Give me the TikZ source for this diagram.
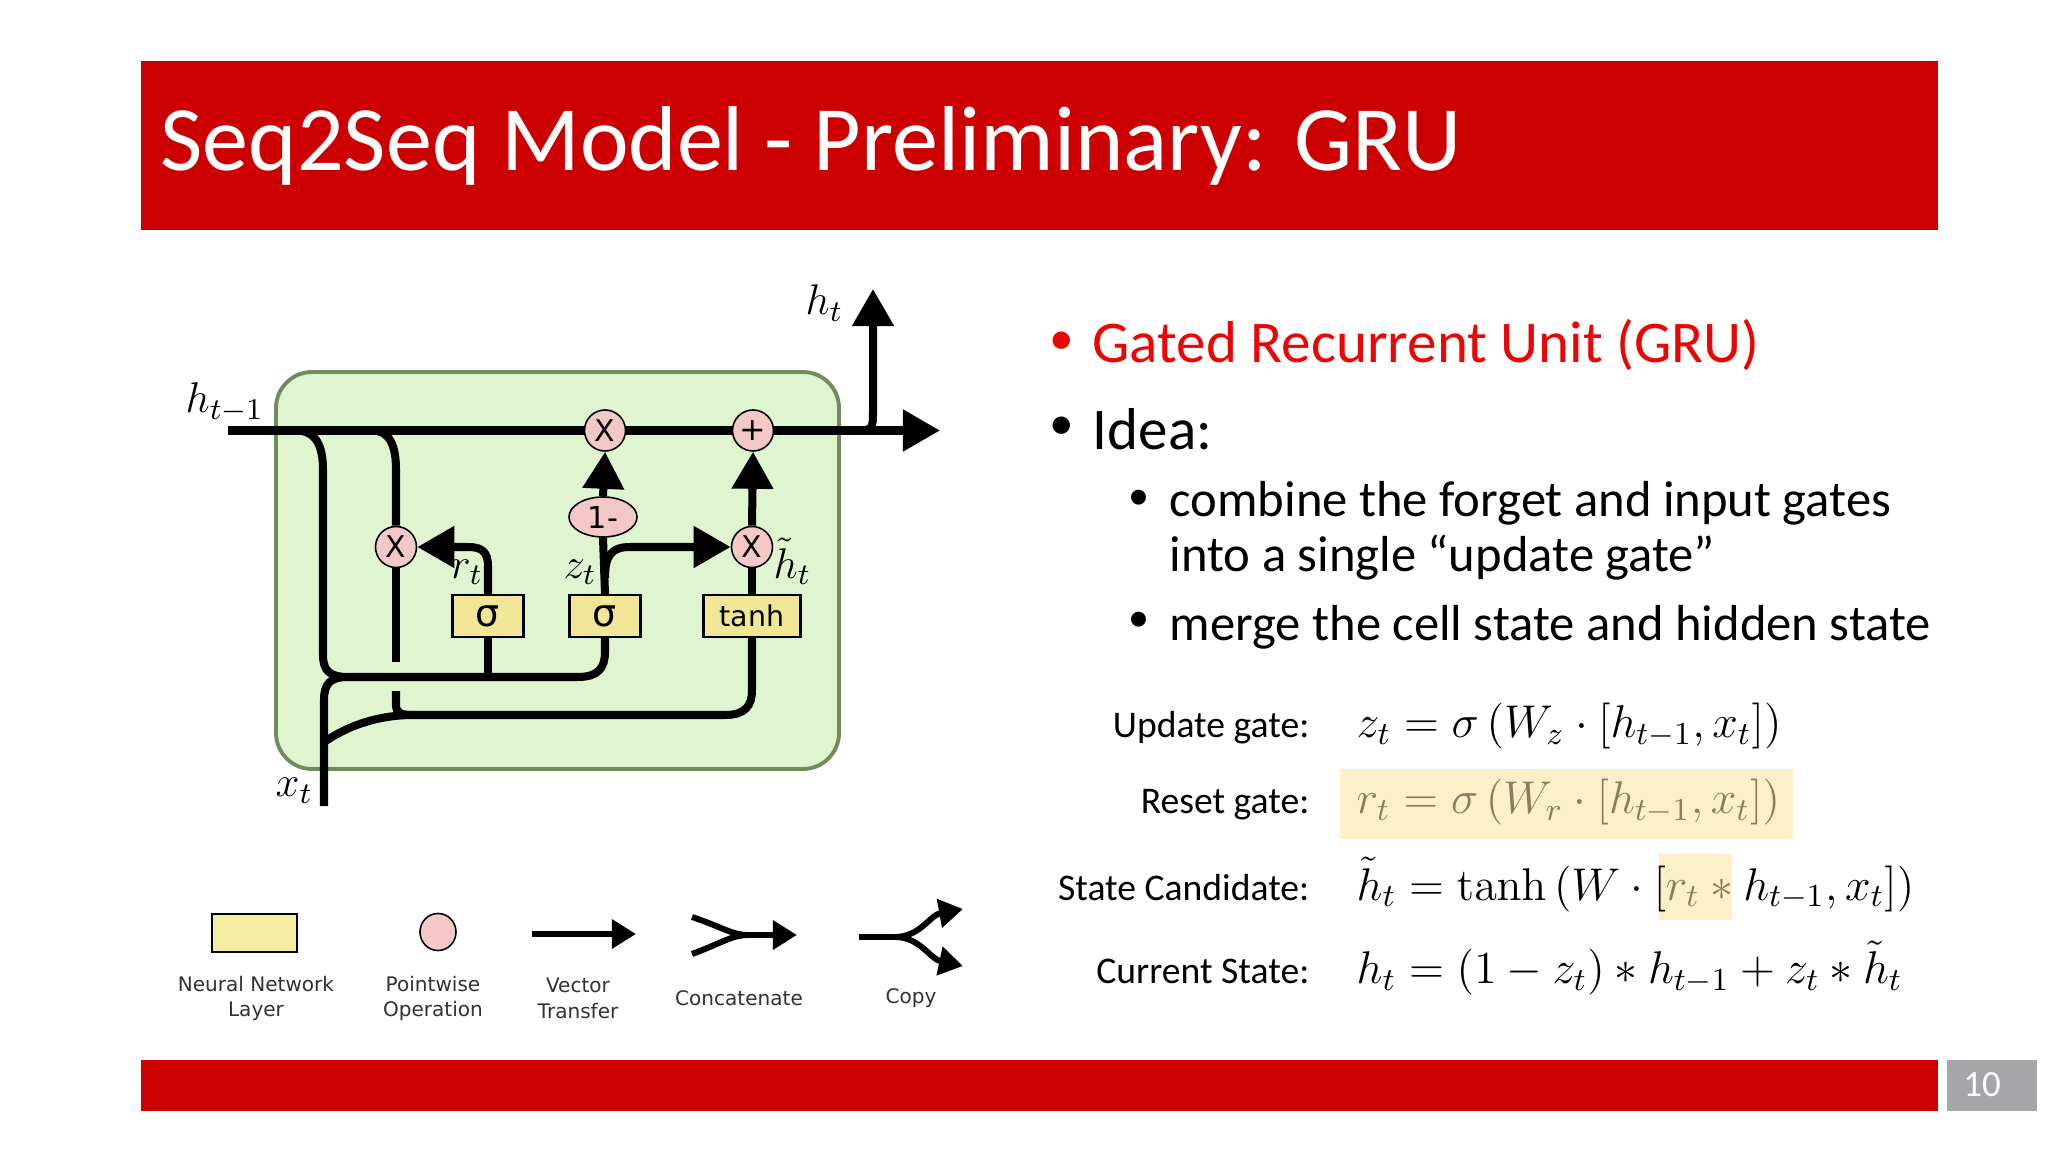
\RequirePackage{fix-cm}
\documentclass[tikz,border=0pt]{standalone}
\usepackage[no-math]{fontspec}
\newfontfamily\carlito{Carlito}
\newfontfamily\dejavu{DejaVu Sans}
\usetikzlibrary{arrows.meta,shapes.geometric}
\definecolor{hdrred}{RGB}{204,0,0}
\definecolor{brightred}{RGB}{235,5,5}
\definecolor{cellgreen}{RGB}{223,245,208}
\definecolor{celledge}{RGB}{112,140,92}
\definecolor{nnyellow}{RGB}{240,230,150}
\definecolor{legyellow}{RGB}{243,238,160}
\definecolor{pwpink}{RGB}{245,200,200}
\definecolor{hlyellow}{RGB}{253,240,200}
\definecolor{olivetext}{RGB}{135,125,95}
\definecolor{pagegray}{RGB}{165,165,170}
\definecolor{legtext}{RGB}{50,50,50}
\newcommand\setfs[1]{\fontsize{#1}{#1}\selectfont}
\tikzset{
  wire/.style={line width=2.28pt},
  arr/.style={wire,-{Triangle[length=3.7mm,width=4mm]}},
  pw/.style={circle,draw=black,line width=0.45pt,fill=pwpink,minimum size=4.1mm,inner sep=0pt,font={\dejavu\setfs{8.5pt}}},
  nn/.style={rectangle,draw=black,line width=0.6pt,fill=nnyellow,minimum height=4.2mm,inner sep=0pt},
  mlbl/.style={inner sep=0pt,anchor=base west,font={\setfs{12.2pt}}},
  legline/.style={line width=1.7pt},
  legarr/.style={legline,-{Triangle[length=2.4mm,width=2.8mm]}},
  legtxt/.style={inner sep=0pt,align=center,text=legtext,font={\dejavu\fontsize{5.7pt}{7.3pt}\selectfont}},
  bigtxt/.style={inner sep=0pt,anchor=base west,font={\carlito\setfs{16.8pt}}},
  subtxt/.style={inner sep=0pt,anchor=base west,font={\carlito\setfs{14.4pt}}},
  bullbig/.style={inner sep=0pt,anchor=center,font={\carlito\setfs{14pt}}},
  bullsub/.style={inner sep=0pt,anchor=center,font={\carlito\setfs{12pt}}},
  eqlbl/.style={inner sep=0pt,anchor=base east,font={\carlito\setfs{10.7pt}}},
  eqn/.style={inner sep=0pt,anchor=base west,font={\setfs{13.05pt}}},
}
\begin{document}
\begin{tikzpicture}[x=0.01cm,y=-0.01cm]
\useasboundingbox[fill=white] (0,0) rectangle (2048,1152);
% header and footer
\fill[hdrred] (141,61) rectangle (1938,230);
\node[anchor=base west,inner sep=0pt,text=white,font={\carlito\setfs{26.2pt}}] (title) at (160,171) {Seq2Seq Model - Preliminary: GRU};
\fill[hdrred] (141,1060) rectangle (1938,1111);
\fill[pagegray] (1947,1060) rectangle (2037,1111);
\node[text=white,inner sep=0pt,font={\carlito\setfs{10.5pt}}] (pnum) at (1982,1085) {10};

% GRU cell
\draw[fill=cellgreen,draw=celledge,line width=1.1pt,rounded corners=3.6mm] (276,372) rectangle (839,769);

\node[pw] (mulz) at (605,430.5) {X};
\node[pw,font={\dejavu\setfs{9pt}}] (plus) at (753,430.5) {+};
\node[pw,ellipse,minimum width=6.8mm,minimum height=4mm,font={\dejavu\setfs{8.6pt}}] (onem) at (603,517) {1-};
\node[pw] (mulr) at (396,547) {X};
\node[pw] (mulh) at (752,547) {X};
\node[nn,minimum width=7.1mm,font={\dejavu\setfs{10.8pt}}] (sigr) at (488,616) {σ};
\node[nn,minimum width=7.1mm,font={\dejavu\setfs{10.8pt}}] (sigz) at (605,616) {σ};
\node[nn,minimum width=9.7mm,font={\dejavu\setfs{8.1pt}}] (tanhb) at (752,616) {tanh};

\coordinate (hin) at (228,430.5);
\coordinate (hout) at (940,430.5);
\coordinate (htip) at (873,289);
\coordinate (xin) at (324,806);

% main line
\draw[wire] (hin) -- (mulz);
\draw[wire] (mulz) -- (plus);
\draw[arr] (plus) -- (hout);
\draw[arr] (852,430.5) .. controls (873,430.5) .. (873,410) -- (htip);

% branch A : h_{t-1} to gates
\draw[wire] (296,430.5) .. controls (316,430.5) and (323,446) .. (323,470) -- (323,655)
  .. controls (323,671) and (330,677) .. (348,677) -- (578,677)
  .. controls (598,677) and (605,668) .. (605,652) -- (sigz.south);
\draw[wire] (sigr.south) -- (488,677);
% x_t input
\draw[wire] (xin) -- (324,700) .. controls (324,684) and (330,677) .. (348,677);
\draw[wire] (324,742) .. controls (345,728) and (372,716) .. (410,715) -- (725,715)
  .. controls (745,715) and (752,706) .. (752,690) -- (tanhb.south);
% branch B : h_{t-1} through reset multiply
\draw[wire] (372,430.5) .. controls (390,430.5) and (396,446) .. (396,470) -- (mulr.north);
\draw[wire] (mulr.south) -- (396,662);
\draw[wire] (396,691) -- (396,705) .. controls (396,712) and (400,715) .. (412,715);
% reset gate output
\draw[arr] (sigr.north) -- (488,566) .. controls (488,552) and (482,547) .. (468,547) -- (mulr.east);
% update gate
\draw[wire] (sigz.north) -- (onem.south);
\draw[arr] (605,578) .. controls (605,556) and (611,547) .. (630,547) -- (mulh.west);
\draw[arr] (onem.north) -- (mulz.south);
% candidate
\draw[wire] (tanhb.north) -- (mulh.south);
\draw[arr] (mulh.north) -- (plus.south);

% math labels
\node[mlbl] (lhprev) at (185,412.7) {$h_{t-1}$};
\node[mlbl] (lht) at (805,315) {$h_t$};
\node[mlbl] (lxt) at (275,796.7) {$x_t$};
\node[mlbl] (lrt) at (450,578) {$r_t$};
\node[mlbl] (lzt) at (563,578) {$z_t$};
\node[mlbl] (lhtil) at (773,578) {$\tilde{h}_t$};

% legend
\node[draw=black,line width=0.7pt,fill=legyellow,minimum width=8.5mm,minimum height=3.8mm,inner sep=0pt] (legnn) at (254.5,933) {};
\node[draw=black,line width=0.45pt,fill=pwpink,ellipse,minimum width=3.6mm,minimum height=3.7mm,inner sep=0pt] (legpw) at (438,932) {};
\coordinate (vt1) at (532,934);
\coordinate (vt2) at (636,934);
\draw[legarr] (vt1) -- (vt2);
\coordinate (cc1) at (692,917);
\coordinate (cc2) at (692,954);
\coordinate (ccm) at (748,935);
\coordinate (cc3) at (797,935);
\draw[legline] (cc1) .. controls (722,927) and (732,935) .. (ccm);
\draw[legline] (cc2) .. controls (722,943) and (732,935) .. (ccm);
\draw[legarr] (742,935) -- (cc3);
\coordinate (cp1) at (859,937);
\coordinate (cpm) at (900,937);
\coordinate (cp2) at (963,909);
\coordinate (cp3) at (963,966);
\draw[legline] (cp1) -- (cpm);
\draw[legarr] (895,937) .. controls (920,937) and (930,915) .. (cp2);
\draw[legarr] (895,937) .. controls (920,937) and (930,959) .. (cp3);
\node[legtxt] (t1) at (256,998.5) {Neural Network\\Layer};
\node[legtxt] (t2) at (433,998.5) {Pointwise\\Operation};
\node[legtxt] (t3) at (578,998.5) {Vector\\Transfer};
\node[legtxt] (t4) at (739,998.5) {Concatenate};
\node[legtxt] (t5) at (911,998.5) {Copy};

% right-hand text
\node[bullbig,text=brightred] (b1) at (1062,343) {•};
\node[bigtxt,text=brightred] (gru) at (1092,362.7) {Gated Recurrent Unit (GRU)};
\node[bullbig] (b2) at (1062,428.3) {•};
\node[bigtxt] (idea) at (1092,449.3) {Idea:};
\node[bullsub] (b3) at (1139,500) {•};
\node[subtxt] (s1) at (1169,516.7) {combine the forget and input gates};
\node[subtxt] (s1b) at (1169,571.7) {into a single “update gate”};
\node[bullsub] (b4) at (1139,622) {•};
\node[subtxt] (s2) at (1169,640) {merge the cell state and hidden state};

% equations
\fill[hlyellow] (1340,769) rectangle (1793,839);
\fill[hlyellow] (1659,854) rectangle (1732,920);
\node[eqlbl] (l1) at (1310,737.3) {Update gate:};
\node[eqlbl] (l2) at (1310,813.3) {Reset gate:};
\node[eqlbl] (l3) at (1310,900) {State Candidate:};
\node[eqlbl] (l4) at (1310,983.3) {Current State:};
\node[eqn] (e1) at (1356,737.3) {$z_t=\sigma\left(W_z\cdot\left[h_{t-1},x_t\right]\right)$};
\node[eqn,text=olivetext] (e2) at (1356,813.3) {$r_t=\sigma\left(W_r\cdot\left[h_{t-1},x_t\right]\right)$};
\node[eqn] (e3) at (1356,900) {$\tilde{h}_t=\tanh\left(W\cdot\left[{\color{olivetext}r_t}\mathbin{\color{olivetext}*}h_{t-1},x_t\right]\right)$};
\node[eqn] (e4) at (1356,983.3) {$h_t=(1-z_t)*h_{t-1}+z_t*\tilde{h}_t$};
\end{tikzpicture}
\end{document}
